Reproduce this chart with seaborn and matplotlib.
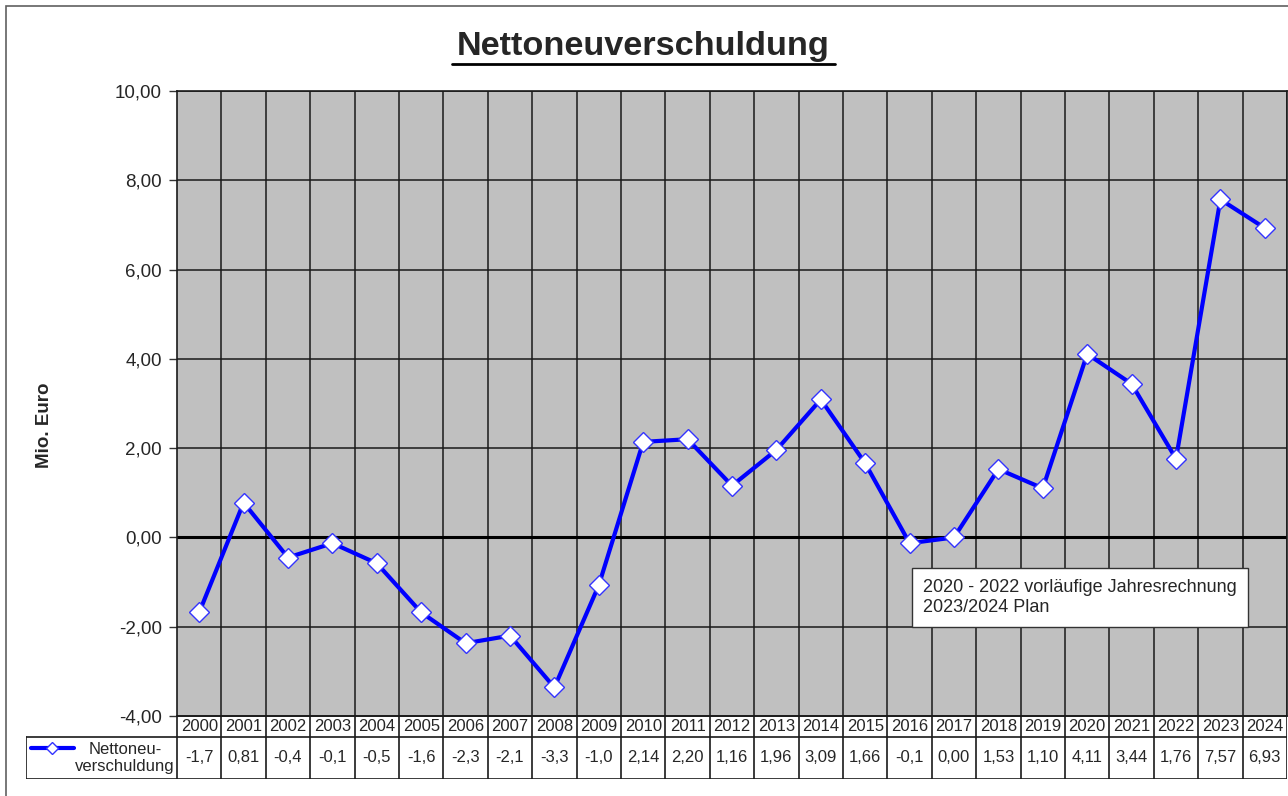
import numpy as np
import pandas as pd
import seaborn as sns
import matplotlib.pyplot as plt
from matplotlib.lines import Line2D
from matplotlib.patches import Rectangle

# Data
years = [str(y) for y in range(2000, 2025)]
werte = [-1.68, 0.78, -0.45, -0.13, -0.58, -1.68, -2.37, -2.2, -3.36, -1.07,
         2.14, 2.20, 1.16, 1.96, 3.09, 1.66, -0.13, 0.00, 1.53, 1.10,
         4.11, 3.44, 1.76, 7.57, 6.93]
tabelle = ['-1,7', '0,81', '-0,4', '-0,1', '-0,5', '-1,6', '-2,3', '-2,1', '-3,3', '-1,0',
           '2,14', '2,20', '1,16', '1,96', '3,09', '1,66', '-0,1', '0,00', '1,53', '1,10',
           '4,11', '3,44', '1,76', '7,57', '6,93']
yticks = [-4, -2, 0, 2, 4, 6, 8, 10]

df = pd.DataFrame({'pos': np.arange(len(years)), 'wert': werte})

sns.set_style('white')
plt.rcParams['font.family'] = ['Liberation Sans', 'DejaVu Sans']

W, H = 1288, 796
fig = plt.figure(figsize=(W / 100, H / 100), dpi=100)


def box(l, t, r, b):
    # pixel box -> figure coords
    return [l / W, 1 - b / H, (r - l) / W, (b - t) / H]


# outer frame
fig.patches.append(Rectangle((6 / W, -0.1), 1.2, 1.1 - 6 / H, transform=fig.transFigure,
                             fill=False, edgecolor='#606060', lw=1.2))

# main plot area
ax = fig.add_axes(box(177, 91, 1287, 716))
ax.set_facecolor('#C0C0C0')
sns.lineplot(data=df, x='pos', y='wert', ax=ax, color='#0000FF', lw=3,
             marker='D', markersize=10, markerfacecolor='white',
             markeredgecolor='#3333FF', markeredgewidth=1, zorder=5)
ax.set_xlim(-0.5, len(years) - 0.5)
ax.set_ylim(-4, 10)
ax.set_xticks([])
ax.set_yticks(yticks)
ax.set_yticklabels([f'{v:.2f}'.replace('.', ',') for v in yticks])
ax.tick_params(axis='y', length=6, width=1, color='#333333', labelsize=13.5, pad=5,
               left=True)
for v in yticks:
    ax.axhline(v, color='#1a1a1a', lw=1.1, zorder=1)
ax.axhline(0, color='black', lw=2.2, zorder=2)
for i in range(len(years)):
    ax.axvline(i + 0.5, color='#1a1a1a', lw=1.1, zorder=1)
for s in ax.spines.values():
    s.set_color('#1a1a1a')
    s.set_linewidth(1.2)
ax.set_xlabel('')
ax.set_ylabel('')
fig.text(45 / W, 1 - 425 / H, 'Mio. Euro', rotation=90, ha='center', va='center',
         fontsize=13.5, fontweight='bold')

# annotation box
ax.text(16.3, -0.93, '2020 - 2022 vorläufige Jahresrechnung\n2023/2024 Plan',
        fontsize=13, va='top', ha='left', linespacing=1.25, zorder=10,
        bbox=dict(boxstyle='square,pad=0.6', facecolor='white', edgecolor='#333333', lw=1))

# data table under the plot
leg_w = 151 * len(years) / 1110
tax = fig.add_axes(box(26, 716, 1287, 779))
tax.set_xlim(-0.5 - leg_w, len(years) - 0.5)
tax.set_ylim(0, 63)
tax.axis('off')
lc = '#1a1a1a'
tax.plot([-0.5, len(years) - 0.5], [63, 63], color=lc, lw=1.2)
tax.plot([-0.5 - leg_w, len(years) - 0.5], [42, 42], color=lc, lw=1.2)
tax.plot([-0.5 - leg_w, len(years) - 0.5], [0.5, 0.5], color=lc, lw=1.2)
tax.plot([-0.5 - leg_w, -0.5 - leg_w], [0.5, 42], color=lc, lw=1.2)
for i in range(len(years) + 1):
    tax.plot([i - 0.5, i - 0.5], [0.5, 63], color=lc, lw=1.2)
for i, (y, t) in enumerate(zip(years, tabelle)):
    tax.text(i, 52.5, y, ha='center', va='center', fontsize=12)
    tax.text(i, 21, t, ha='center', va='center', fontsize=12)
# legend key in the table
kx0 = -0.5 - leg_w + 0.12
tax.plot([kx0, kx0 + 0.95], [31, 31], color='#0000FF', lw=3)
tax.plot([kx0 + 0.475], [31], marker='D', markersize=6, markerfacecolor='white',
         markeredgecolor='#3333FF', markeredgewidth=1, color='#0000FF')
tax.text(-0.55, 21, 'Nettoneu-\nverschuldung', ha='right', va='center',
         fontsize=12, multialignment='center', linespacing=1.15)

# title with underline
fig.text(643 / W, 1 - 47 / H, 'Nettoneuverschuldung', ha='center', va='center',
         fontsize=24.7, fontweight='bold')
fig.lines.append(Line2D([452 / W, 835 / W], [1 - 64 / H, 1 - 64 / H],
                        transform=fig.transFigure, color='black', lw=2))

fig.savefig('out.png', dpi=100)
